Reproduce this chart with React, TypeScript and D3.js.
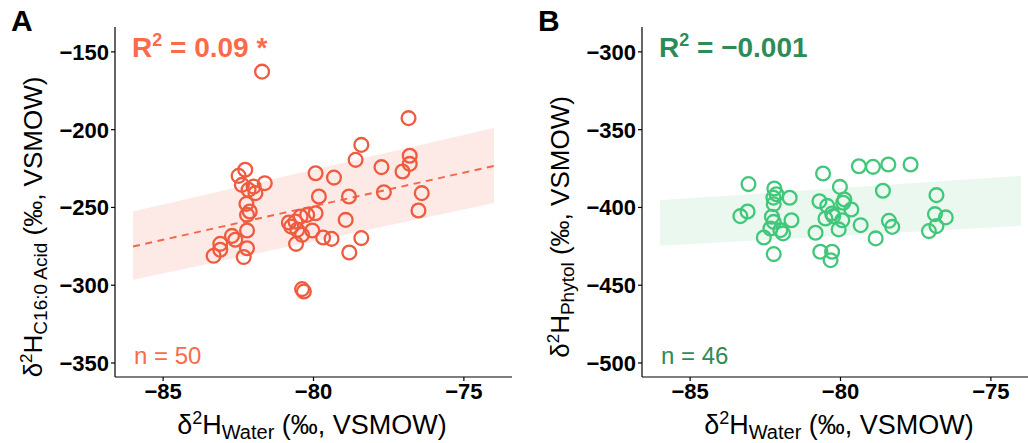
import React from "react";
import * as d3 from "d3";

// Panel A: δ2H water vs δ2H C16:0 acid
const waterA = [-81.71, -76.84, -78.41, -78.6, -76.8, -76.8, -77.04, -77.74, -77.66, -76.4, -76.51,
  -79.93, -79.32, -78.82, -79.82, -78.93, -78.41, -78.81, -79.68, -79.4, -80.04, -79.93, -80.21,
  -80.43, -80.6, -80.82, -80.74, -80.54, -80.38, -80.58, -80.38, -80.32,
  -82.27, -82.49, -82.38, -81.99, -82.16, -81.93, -81.62, -82.23, -82.12, -82.21, -82.21,
  -82.71, -82.6, -83.1, -83.1, -82.21, -82.32, -83.32];
const acidA = [-162.7, -192.6, -209.8, -219.4, -216.8, -222, -226.9, -224.1, -240.2, -240.8, -252,
  -228, -230.8, -243, -243, -258, -269.7, -279, -269.3, -270.2, -264.8, -253.7, -254.8,
  -255.8, -259.1, -259.7, -262.3, -264.4, -267.6, -273.4, -302.5, -304,
  -225.8, -229.7, -235.5, -236.6, -238.7, -240.8, -234.4, -247.7, -252.6, -254.8, -264.8,
  -268.3, -270.8, -273.4, -277.2, -276.2, -281.9, -281.1];

// Panel B: δ2H water vs δ2H phytol
const waterB = [-83.06, -83.33, -83.09, -82.2, -82.13, -82.23, -81.69, -82.22, -82.28, -82.22, -81.63,
  -82.33, -82.0, -81.91, -82.55, -82.22,
  -80.58, -80.7, -80.44, -80.02, -79.87, -79.91, -79.64, -80.28, -80.5, -79.94, -80.24, -80.06,
  -80.83, -80.67, -80.28, -80.33,
  -79.39, -78.92, -78.41, -77.67, -78.59, -79.33, -78.39, -78.28, -78.83,
  -76.81, -76.86, -76.5, -76.81, -77.06];
const phytolB = [-385, -405.6, -402.6, -387.8, -391.5, -393.7, -393.8, -397.9, -406, -409.3, -408.2,
  -413.5, -414.6, -416.7, -419.3, -430,
  -378.2, -396, -399, -386.8, -394.9, -397, -401.3, -403.9, -407.1, -408.2, -405.6, -414.1,
  -416.3, -428.5, -428.5, -433.9,
  -373.5, -373.9, -372.4, -372.4, -389.3, -411.4, -408.6, -412.5, -419.9,
  -392.1, -404.3, -406.4, -412, -415.2];

// Fit band / line endpoints
const fitX = [-86, -74];
const fitLineA = [-275.1, -223.3];
const bandLowA = [-296.5, -247.2];
const bandHighA = [-252.6, -199];
const bandLowB = [-424.7, -411.8];
const bandHighB = [-395.3, -379.7];

const xTicks = [-85, -80, -75];
const yTicksA = [-150, -200, -250, -300, -350];
const yTicksB = [-300, -350, -400, -450, -500];

const FONT = "Arial, 'Liberation Sans', Helvetica, sans-serif";
const fmt = d3.format("");

type PanelProps = {
  left: number;
  xs: number[];
  ys: number[];
  yDomain: [number, number];
  yTicks: number[];
  bandLow: number[];
  bandHigh: number[];
  line?: number[];
  pointColor: string;
  bandColor: string;
  lineColor?: string;
  r2Text: string;
  r2Color: string;
  nText: string;
  nColor: string;
  letter: string;
  ySub: string;
};

function Panel(p: PanelProps) {
  const top = 27, bottom = 377;
  const x = d3.scaleLinear().domain([-86.6, -73.4]).range([p.left, p.left + 397]);
  const y = d3.scaleLinear().domain(p.yDomain).range([bottom, top]);
  const area = d3.area<number>()
    .x((_, i) => x(fitX[i]))
    .y0((_, i) => y(p.bandLow[i]))
    .y1((_, i) => y(p.bandHigh[i]));
  const lineGen = d3.line<number>().x((_, i) => x(fitX[i])).y((d) => y(d));
  const titleX = p.left - 73;
  const titleY = (top + bottom) / 2 + 25;
  return (
    <g>
      <path d={area(fitX) || ""} fill={p.bandColor} />
      {p.line && (
        <path d={lineGen(p.line) || ""} fill="none" stroke={p.lineColor} strokeWidth={1.9} strokeDasharray="7,5.5" />
      )}
      {p.xs.map((v, i) => (
        <circle key={i} cx={x(v)} cy={y(p.ys[i])} r={6.9} fill="none" stroke={p.pointColor} strokeWidth={2.3} />
      ))}
      {/* axes */}
      <line x1={p.left} x2={p.left} y1={top} y2={bottom} stroke="#000" strokeWidth={1.2} />
      <line x1={p.left} x2={p.left + 397} y1={bottom} y2={bottom} stroke="#000" strokeWidth={1.2} />
      {p.yTicks.map((t) => (
        <g key={t}>
          <line x1={p.left - 4} x2={p.left} y1={y(t)} y2={y(t)} stroke="#000" strokeWidth={1.2} />
          <text x={p.left - 6} y={y(t)} dy="0.36em" textAnchor="end" fontFamily={FONT} fontWeight="bold" fontSize={22}>
            {fmt(t)}
          </text>
        </g>
      ))}
      {xTicks.map((t) => (
        <g key={t}>
          <line x1={x(t)} x2={x(t)} y1={bottom} y2={bottom + 4} stroke="#000" strokeWidth={1.2} />
          <text x={x(t)} y={bottom + 22} textAnchor="middle" fontFamily={FONT} fontWeight="bold" fontSize={22}>
            {fmt(t)}
          </text>
        </g>
      ))}
      {/* x title */}
      <text x={p.left + 197} y={434} textAnchor="middle" fontFamily={FONT} fontSize={27}>
        <tspan>δ</tspan>
        <tspan fontSize={18} dy={-10}>2</tspan>
        <tspan dy={10}>H</tspan>
        <tspan fontSize={20} dy={5}>Water</tspan>
        <tspan dy={-5}> (‰, VSMOW)</tspan>
      </text>
      {/* y title */}
      <text transform={`translate(${titleX},${titleY}) rotate(-90)`} textAnchor="middle" fontFamily={FONT} fontSize={26}>
        <tspan>δ</tspan>
        <tspan fontSize={17} dy={-10}>2</tspan>
        <tspan dy={10}>H</tspan>
        <tspan fontSize={19} dy={5}>{p.ySub}</tspan>
        <tspan dy={-5}> (‰, VSMOW)</tspan>
      </text>
      {/* annotations */}
      <text x={p.left + 17} y={57} fontFamily={FONT} fontWeight="bold" fontSize={28} fill={p.r2Color}>
        <tspan>R</tspan>
        <tspan fontSize={18} dy={-11}>2</tspan>
        <tspan dy={11}>{p.r2Text}</tspan>
      </text>
      <text x={p.left + 19} y={364} fontFamily={FONT} fontSize={24} fill={p.nColor}>
        {p.nText}
      </text>
      <text x={p.left - 104} y={31} fontFamily={FONT} fontWeight="bold" fontSize={30} fill="#000">
        {p.letter}
      </text>
    </g>
  );
}

export default function App() {
  return (
    <svg width={1028} height={443} style={{ position: "absolute", left: 0, top: 0, background: "#fff" }}>
      <rect width={1028} height={443} fill="#fff" />
      <Panel
        left={115}
        xs={waterA}
        ys={acidA}
        yDomain={[-359, -134]}
        yTicks={yTicksA}
        bandLow={bandLowA}
        bandHigh={bandHighA}
        line={fitLineA}
        pointColor="#EE5B3F"
        bandColor="#FDE9E5"
        lineColor="#F2674A"
        r2Text=" = 0.09 *"
        r2Color="#FB6A4A"
        nText="n = 50"
        nColor="#FB6A4A"
        letter="A"
        ySub="C16:0 Acid"
      />
      <Panel
        left={642}
        xs={waterB}
        ys={phytolB}
        yDomain={[-509, -284]}
        yTicks={yTicksB}
        bandLow={bandLowB}
        bandHigh={bandHighB}
        pointColor="#41C77A"
        bandColor="#EAF8EF"
        r2Text=" = −0.001"
        r2Color="#2E8B57"
        nText="n = 46"
        nColor="#2E8B57"
        letter="B"
        ySub="Phytol"
      />
    </svg>
  );
}
